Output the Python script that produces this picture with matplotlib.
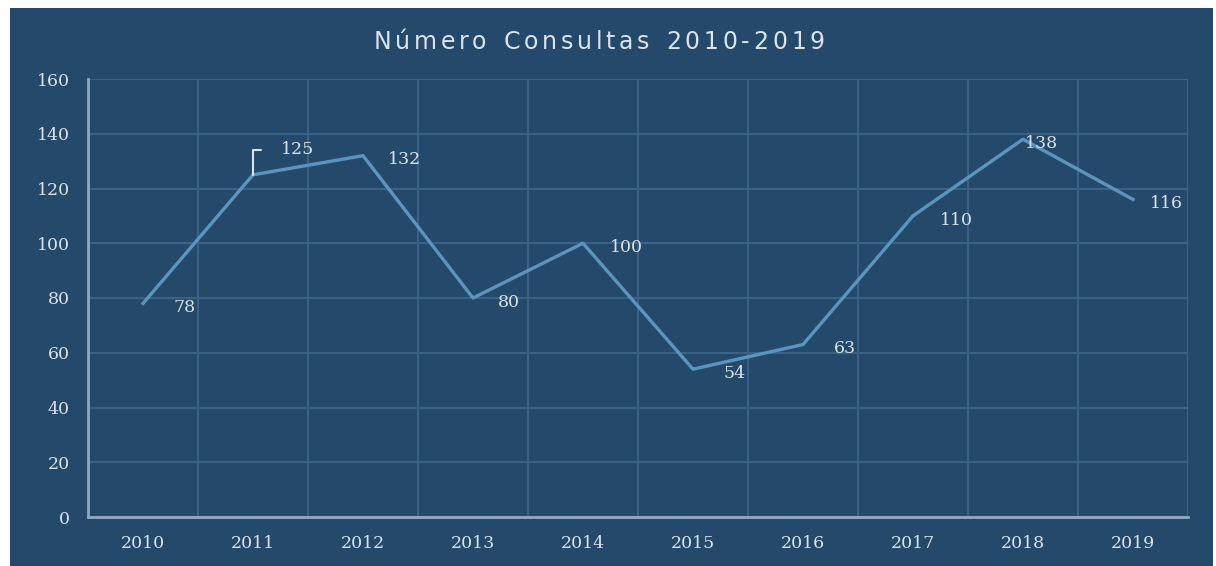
import numpy as np
import matplotlib.pyplot as plt
from matplotlib.patches import Rectangle

# data
years = ["2010", "2011", "2012", "2013", "2014", "2015", "2016", "2017", "2018", "2019"]
consultas = [78, 125, 132, 80, 100, 54, 63, 110, 138, 116]
y_ticks = [0, 20, 40, 60, 80, 100, 120, 140, 160]
title = "Número Consultas 2010-2019"

bg = "#24496b"
grid_col = "#3b6186"
line_col = "#5b95bf"
text_col = "#dbe3ea"
spine_col = "#8fa9c2"
num_font = "DejaVu Serif"

W, H = 1216, 566
fig = plt.figure(figsize=(W / 100, H / 100), dpi=100)
fig.patch.set_facecolor("white")

# dark panel behind the chart
fig.add_artist(Rectangle((10 / W, 0), (1213 - 10) / W, (H - 8) / H,
                         transform=fig.transFigure, facecolor=bg,
                         edgecolor="none", zorder=-10))

ax = fig.add_axes([88 / W, (H - 517) / H, (1188 - 88) / W, (517 - 79) / H])
ax.set_facecolor(bg)
ax.set_zorder(1)

x = np.arange(len(years))
ax.plot(x, consultas, color=line_col, linewidth=2.4, zorder=3)

# value labels to the right of each point (label offsets in points)
dx = [30, 0, 30, 26, 31, 30, 30, 31, 13, 24]
for i, v in enumerate(consultas):
    if i == 1:
        ax.annotate(str(v), xy=(i, v), xytext=(20, 18), textcoords="offset points",
                    color=text_col, fontsize=12.5, family=num_font,
                    ha="left", va="center",
                    arrowprops=dict(arrowstyle="-", color=text_col, lw=1.5,
                                    shrinkA=12, shrinkB=0,
                                    connectionstyle="angle,angleA=0,angleB=90,rad=0"))
    else:
        ax.annotate(str(v), xy=(i, v), xytext=(dx[i], -3), textcoords="offset points",
                    color=text_col, fontsize=12.5, family=num_font,
                    ha="center", va="center")

ax.set_xlim(-0.5, len(years) - 0.5)
ax.set_ylim(0, 160)
ax.set_xticks(x)
ax.set_xticklabels(years)
ax.set_yticks(y_ticks)
ax.set_xticks(np.arange(-0.5, len(years)), minor=True)
ax.tick_params(which="both", length=0)
ax.tick_params(axis="x", colors=text_col, labelsize=12.5, pad=13)
ax.tick_params(axis="y", colors=text_col, labelsize=12.5, pad=13)
for lab in ax.get_xticklabels() + ax.get_yticklabels():
    lab.set_family(num_font)

ax.grid(axis="y", which="major", color=grid_col, linewidth=1.5)
ax.grid(axis="x", which="minor", color=grid_col, linewidth=1.5)

for side in ["top", "right"]:
    ax.spines[side].set_visible(False)
for side in ["left", "bottom"]:
    ax.spines[side].set_color(spine_col)
    ax.spines[side].set_linewidth(2)

# title with wide letter spacing, placed char by char
renderer = fig.canvas.get_renderer()
tracking = 3.8  # extra px between letters
widths = []
for ch in title:
    t = fig.text(0, 0, ch if ch != " " else "n", fontsize=17, family="DejaVu Sans")
    w = t.get_window_extent(renderer).width
    if ch == " ":
        w *= 0.6
    widths.append(w)
    t.remove()
total = sum(widths) + tracking * (len(title) - 1)
xpos = 599 - total / 2
for ch, w in zip(title, widths):
    if ch != " ":
        fig.text(xpos / W, 1 - 42 / H, ch, color=text_col, fontsize=17,
                 family="DejaVu Sans", ha="left", va="center")
    xpos += w + tracking

fig.savefig("out.png", dpi=100, facecolor=fig.get_facecolor())
